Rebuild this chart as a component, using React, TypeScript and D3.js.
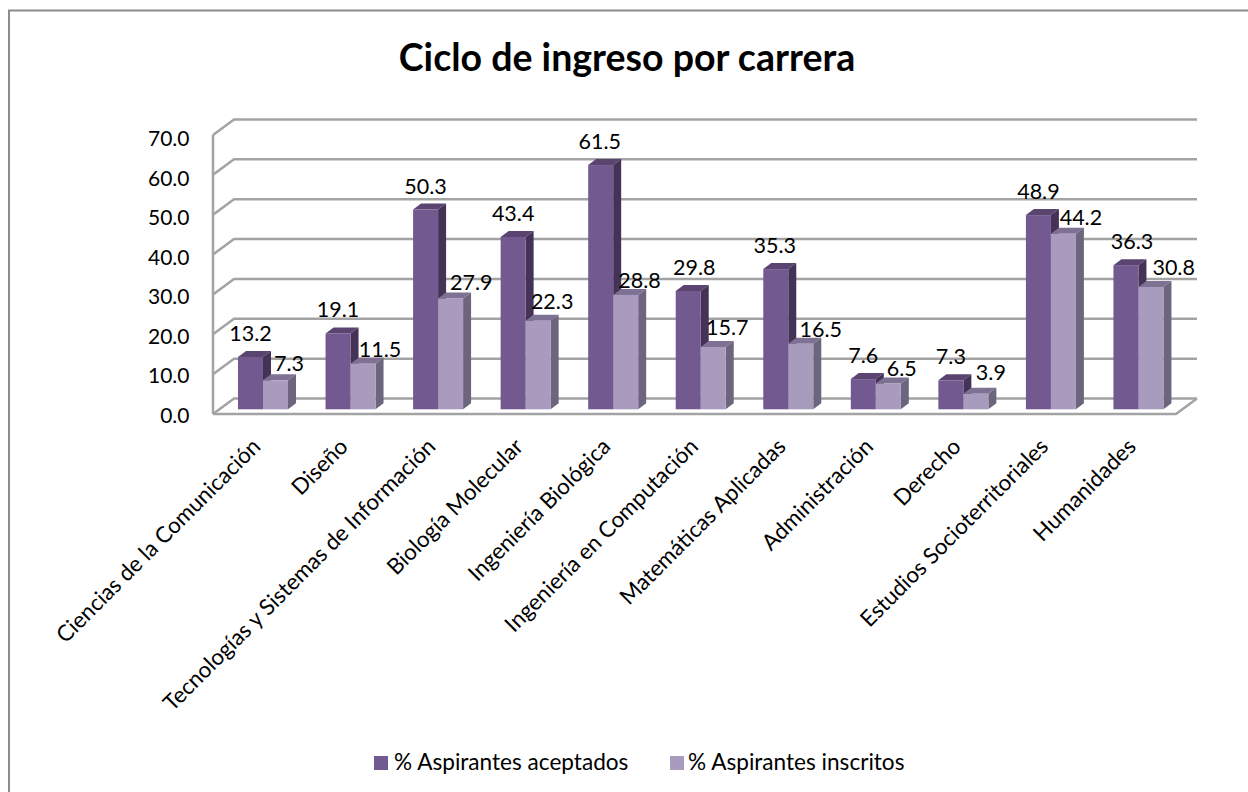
import React from 'react';
import * as d3 from 'd3';

const categories = [
  'Ciencias de la Comunicación', 'Diseño', 'Tecnologías y Sistemas de Información',
  'Biología Molecular', 'Ingeniería Biológica', 'Ingeniería en Computación',
  'Matemáticas Aplicadas', 'Administración', 'Derecho',
  'Estudios Socioterritoriales', 'Humanidades',
];
const aceptados = [13.2, 19.1, 50.3, 43.4, 61.5, 29.8, 35.3, 7.6, 7.3, 48.9, 36.3];
const inscritos = [7.3, 11.5, 27.9, 22.3, 28.8, 15.7, 16.5, 6.5, 3.9, 44.2, 30.8];
const yTicks = [0, 10, 20, 30, 40, 50, 60, 70];
const seriesNames = ['% Aspirantes aceptados', '% Aspirantes inscritos'];

// label placement, relative to the bar's centre and top
const shiftAceptados = [0, 0, 0, 0, -1, 6, -1, 0, 0, 0, 6];
const shiftInscritos = [13.5, 17, 20.7, 14, 13.8, 14, 20, 13.5, 15, 17.5, 22.7];
const riseInscritos = [17, 15, 16.5, 20, 15, 20, 15, 15, 22, 17, 20];

const FONT = 'Lato, "Open Sans", sans-serif';
const GRID = '#a3a3a3';
const barDX = 8, barDY = 6;

// [front, top, side]
const palette = [
  ['#725990', '#59456f', '#443356'],
  ['#a99bbd', '#7f7194', '#6d657e'],
];

const x = d3.scaleBand<string>().domain(categories).range([213, 1176]);
const yFront = d3.scaleLinear().domain([0, 70]).range([414, 135]);
const yBack = d3.scaleLinear().domain([0, 70]).range([398.5, 119.5]);
const yBar = d3.scaleLinear().domain([0, 70]).range([409.3, 131.3]);
const yLabel = d3.scaleLinear().domain([0, 70]).range([415, 138]);

const barW = 25;
const barStart = (c: string) => (x(c) as number) + 25;

function Bar({ x0, v, colors }: { x0: number; v: number; colors: string[] }) {
  const top = yBar(v), base = yBar(0);
  const cap = d3.path();
  cap.moveTo(x0, top);
  cap.lineTo(x0 + barDX, top - barDY);
  cap.lineTo(x0 + barW + barDX, top - barDY);
  cap.lineTo(x0 + barW, top);
  cap.closePath();
  const side = d3.path();
  side.moveTo(x0 + barW, top);
  side.lineTo(x0 + barW + barDX, top - barDY);
  side.lineTo(x0 + barW + barDX, base - barDY);
  side.lineTo(x0 + barW, base);
  side.closePath();
  return (
    <g>
      <path d={cap.toString()} fill={colors[1]} />
      <path d={side.toString()} fill={colors[2]} />
      <rect x={x0} y={top} width={barW} height={base - top} fill={colors[0]} />
    </g>
  );
}

export default function App() {
  return (
    <svg width={1248} height={792} style={{ position: 'absolute', left: 0, top: 0, background: '#fff' }} fontFamily={FONT}>
      {/* frame runs off the right and bottom of the picture */}
      <rect x={9} y={10.5} width={1260} height={800} fill="#fff" stroke="#8c8c8c" strokeWidth={2} />

      <text x={627} y={71} textAnchor="middle" fontSize={37.5} fontWeight={700} fill="#000">Ciclo de ingreso por carrera</text>

      {/* walls */}
      <g stroke={GRID} strokeWidth={2.5} fill="none">
        {yTicks.map(t => (
          <polyline key={t} points={`213,${yFront(t)} 234,${yBack(t)} 1197,${yBack(t)}`} />
        ))}
        <line x1={213} y1={yFront(70)} x2={213} y2={yFront(0)} />
        <polyline points={`213,414 1176,414 1197,${yBack(0)}`} />
      </g>

      {yTicks.map(t => (
        <text key={t} x={189.5} y={yLabel(t) + 8} textAnchor="end" fontSize={21} fill="#000">{t.toFixed(1)}</text>
      ))}

      {categories.map((c, i) => (
        <g key={c}>
          <Bar x0={barStart(c)} v={aceptados[i]} colors={palette[0]} />
          <Bar x0={barStart(c) + barW} v={inscritos[i]} colors={palette[1]} />
        </g>
      ))}

      {categories.map((c, i) => (
        <g key={c} fontSize={21.5} fill="#000" textAnchor="middle">
          <text x={barStart(c) + barW / 2 + shiftAceptados[i]} y={yBar(aceptados[i]) - 24 + 8}>{aceptados[i].toFixed(1)}</text>
          <text x={barStart(c) + barW * 1.5 + shiftInscritos[i]} y={yBar(inscritos[i]) - riseInscritos[i] + 8}>{inscritos[i].toFixed(1)}</text>
        </g>
      ))}

      {categories.map(c => (
        <text key={c} textAnchor="end" fontSize={22.3} fill="#000"
          transform={`translate(${(x(c) as number) + x.bandwidth() / 2 + 5},448) rotate(-45)`}>{c}</text>
      ))}

      {/* legend */}
      <rect x={374} y={756} width={14} height={14} fill={palette[0][0]} />
      <text x={394} y={770} fontSize={22.6} fill="#000">{seriesNames[0]}</text>
      <rect x={670} y={756} width={14} height={14} fill={palette[1][0]} />
      <text x={688} y={770} fontSize={22.6} fill="#000">{seriesNames[1]}</text>
    </svg>
  );
}
